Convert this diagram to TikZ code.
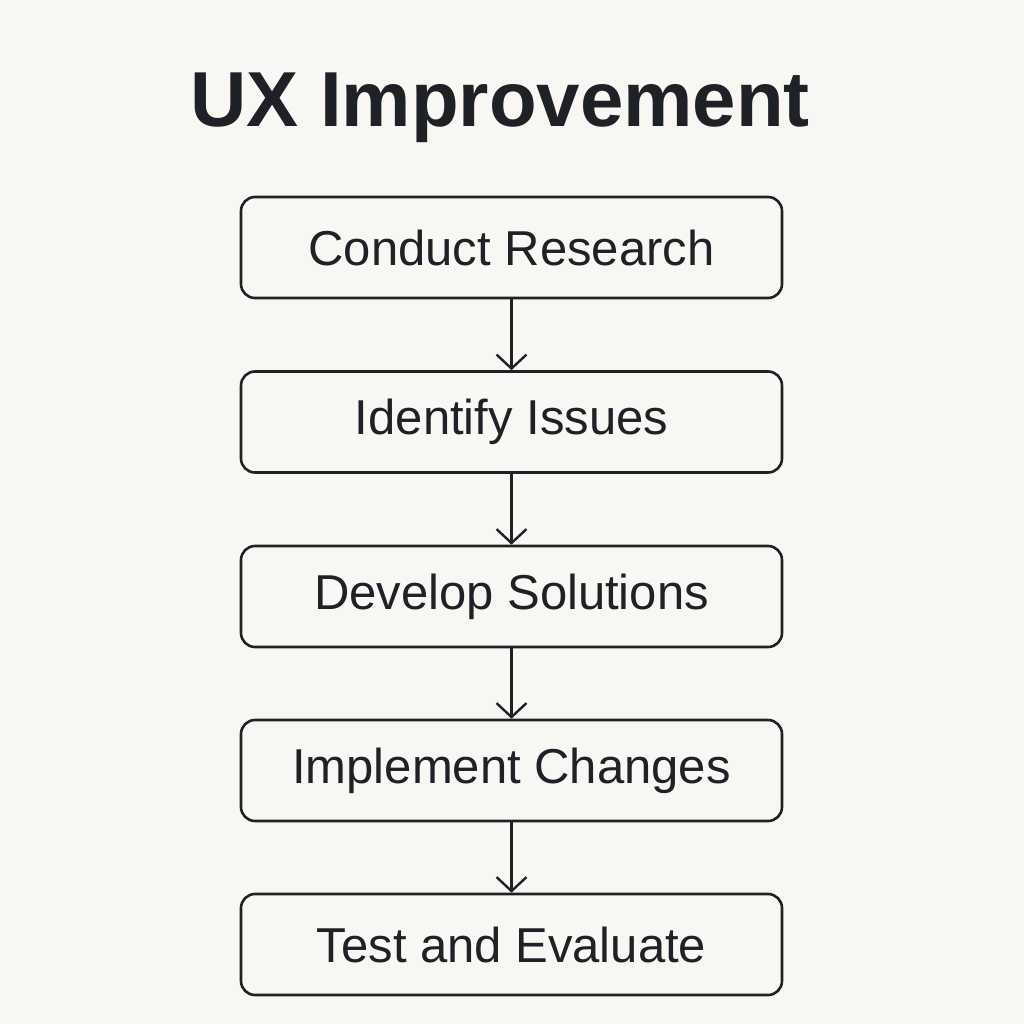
\documentclass[tikz,border=0pt]{standalone}
\usepackage{fontspec}
\setmainfont{Liberation Sans}
\usetikzlibrary{arrows.meta}
\definecolor{bg}{HTML}{F8F7F3}
\definecolor{ink}{HTML}{1E2226}
\begin{document}
\begin{tikzpicture}[x=1pt,y=-1pt,
  stepbox/.style={draw=ink,line width=2.6pt,rounded corners=14pt,minimum width=541pt,minimum height=101pt,inner sep=0pt,text=ink,font=\fontsize{49}{56}\selectfont},
  conn/.style={draw=ink,line width=2.4pt,-{Straight Barb[length=14pt,width=30pt,line width=2.4pt]}}]
\fill[bg] (0,0) rectangle (1024,1024);
\useasboundingbox (0,0) rectangle (1024,1024);
\node[text=ink,font=\bfseries\fontsize{78}{90}\selectfont] (title) at (500,108) {UX Improvement};
\node[stepbox] (b1) at (511.5,247.5) {Conduct Research};
\node[stepbox] (b2) at (511.5,422) {Identify Issues};
\node[stepbox] (b3) at (511.5,596.5) {Develop Solutions};
\node[stepbox] (b4) at (511.5,770.5) {Implement Changes};
\node[stepbox] (b5) at (511.5,944.5) {Test and Evaluate};
\draw[conn] (b1) -- (b2);
\draw[conn] (b2) -- (b3);
\draw[conn] (b3) -- (b4);
\draw[conn] (b4) -- (b5);
\end{tikzpicture}
\end{document}
